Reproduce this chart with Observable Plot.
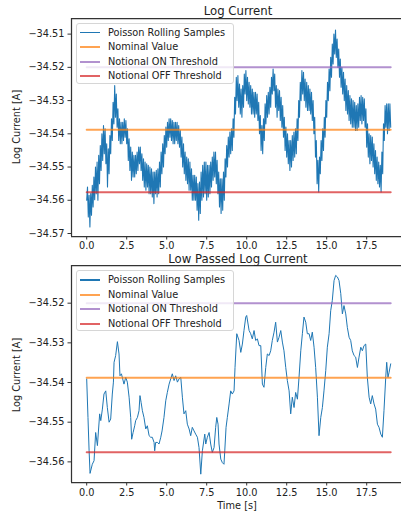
<!DOCTYPE html>
<html>
<head>
<meta charset="utf-8">
<script src="https://cdn.jsdelivr.net/npm/d3@7"></script>
<script src="https://cdn.jsdelivr.net/npm/@observablehq/plot@0.6"></script>
<style>
  html, body { margin: 0; padding: 0; background: #fff; }
  body { font-family: "DejaVu Sans", sans-serif; color: #222; }
  #fig { position: relative; width: 401px; height: 513px; overflow: hidden; background: #fff; }
  #fig svg { position: absolute; left: 0; }
  .title { position: absolute; font-size: 11.7px; line-height: 1; white-space: nowrap; transform: translateX(-50%); }
  .ylab { position: absolute; font-size: 9.75px; line-height: 1; white-space: nowrap; transform: translate(-50%, -50%) rotate(-90deg); }
  .xlab { position: absolute; font-size: 9.75px; line-height: 1; white-space: nowrap; transform: translate(-50%, -50%); }
  .legend { position: absolute; background: rgba(255,255,255,0.8); border: 1px solid #d6d6d6; border-radius: 3px; box-sizing: border-box; }
  .legend .sw { position: absolute; height: 2px; width: 20px; left: 3px; }
  .legend .lt { position: absolute; left: 31px; font-size: 9.75px; line-height: 1; white-space: nowrap; transform: translateY(-50%); }
</style>
</head>
<body>
<div id="fig"></div>
<script>
// ---------- data ----------
const seriesNames = ["Poisson Rolling Samples", "Nominal Value", "Notional ON Threshold", "Notional OFF Threshold"];
const seriesColors = ["#1f77b4", "#ff7f0e", "#9467bd", "#d62728"];
const titles = ["Log Current", "Low Passed Log Current"];
const yLabel = "Log Current [A]";
const xLabel = "Time [s]";
const xTicks = [0, 2.5, 5, 7.5, 10, 12.5, 15, 17.5];
const yTicksTop = [-34.57, -34.56, -34.55, -34.54, -34.53, -34.52, -34.51];
const yTicksBottom = [-34.56, -34.55, -34.54, -34.53, -34.52];

const nominalValue = -34.5388;
const onThreshold = -34.5200;
const offThreshold = -34.5576;
const thresholdSpan = [0, 19];

// raw rolling samples, one every 0.05 s from 0 to 19 s
const rawStep = 0.05;
const rawValues = [
  -34.5600, -34.5560, -34.5650, -34.5585, -34.5680, -34.5580, -34.5645, -34.5555, -34.5620, -34.5530,
  -34.5598, -34.5500, -34.5580, -34.5485, -34.5600, -34.5465, -34.5550, -34.5435, -34.5510, -34.5400,
  -34.5480, -34.5375, -34.5460, -34.5385, -34.5490, -34.5430, -34.5560, -34.5445, -34.5520, -34.5405,
  -34.5460, -34.5355, -34.5420, -34.5305, -34.5370, -34.5255, -34.5350, -34.5280, -34.5380, -34.5325,
  -34.5420, -34.5355, -34.5430, -34.5365, -34.5430, -34.5365, -34.5420, -34.5355, -34.5410, -34.5360,
  -34.5430, -34.5385, -34.5480, -34.5415, -34.5510, -34.5440, -34.5540, -34.5455, -34.5530, -34.5465,
  -34.5530, -34.5465, -34.5520, -34.5455, -34.5510, -34.5440, -34.5490, -34.5440, -34.5510, -34.5460,
  -34.5540, -34.5475, -34.5560, -34.5485, -34.5570, -34.5490, -34.5560, -34.5495, -34.5580, -34.5500,
  -34.5580, -34.5505, -34.5590, -34.5515, -34.5610, -34.5515, -34.5580, -34.5510, -34.5590, -34.5505,
  -34.5580, -34.5485, -34.5560, -34.5455, -34.5520, -34.5430, -34.5500, -34.5405, -34.5460, -34.5380,
  -34.5440, -34.5365, -34.5420, -34.5355, -34.5410, -34.5355, -34.5420, -34.5360, -34.5430, -34.5365,
  -34.5430, -34.5365, -34.5420, -34.5365, -34.5430, -34.5375, -34.5440, -34.5390, -34.5470, -34.5410,
  -34.5500, -34.5430, -34.5520, -34.5455, -34.5540, -34.5470, -34.5550, -34.5475, -34.5570, -34.5485,
  -34.5570, -34.5505, -34.5600, -34.5525, -34.5600, -34.5525, -34.5600, -34.5530, -34.5630, -34.5550,
  -34.5660, -34.5545, -34.5640, -34.5515, -34.5600, -34.5495, -34.5590, -34.5485, -34.5580, -34.5485,
  -34.5600, -34.5495, -34.5590, -34.5495, -34.5580, -34.5485, -34.5560, -34.5470, -34.5540, -34.5455,
  -34.5530, -34.5455, -34.5550, -34.5480, -34.5580, -34.5515, -34.5620, -34.5535, -34.5640, -34.5535,
  -34.5630, -34.5515, -34.5600, -34.5475, -34.5530, -34.5435, -34.5500, -34.5410, -34.5470, -34.5395,
  -34.5460, -34.5385, -34.5450, -34.5355, -34.5410, -34.5290, -34.5340, -34.5230, -34.5300, -34.5225,
  -34.5320, -34.5250, -34.5340, -34.5265, -34.5350, -34.5255, -34.5320, -34.5220, -34.5280, -34.5210,
  -34.5300, -34.5230, -34.5310, -34.5245, -34.5320, -34.5255, -34.5340, -34.5265, -34.5340, -34.5275,
  -34.5350, -34.5275, -34.5340, -34.5280, -34.5360, -34.5305, -34.5400, -34.5345, -34.5450, -34.5375,
  -34.5460, -34.5355, -34.5420, -34.5310, -34.5370, -34.5285, -34.5350, -34.5275, -34.5340, -34.5260,
  -34.5320, -34.5230, -34.5280, -34.5205, -34.5270, -34.5220, -34.5320, -34.5255, -34.5350, -34.5265,
  -34.5330, -34.5270, -34.5360, -34.5290, -34.5380, -34.5315, -34.5410, -34.5350, -34.5450, -34.5380,
  -34.5470, -34.5400, -34.5490, -34.5420, -34.5510, -34.5420, -34.5500, -34.5405, -34.5480, -34.5395,
  -34.5470, -34.5385, -34.5460, -34.5355, -34.5420, -34.5300, -34.5350, -34.5245, -34.5300, -34.5210,
  -34.5280, -34.5215, -34.5300, -34.5235, -34.5320, -34.5245, -34.5330, -34.5255, -34.5330, -34.5265,
  -34.5340, -34.5275, -34.5360, -34.5300, -34.5400, -34.5350, -34.5470, -34.5420, -34.5550, -34.5480,
  -34.5575, -34.5470, -34.5520, -34.5420, -34.5480, -34.5385, -34.5450, -34.5350, -34.5410, -34.5300,
  -34.5350, -34.5245, -34.5300, -34.5205, -34.5270, -34.5170, -34.5230, -34.5130, -34.5190, -34.5100,
  -34.5160, -34.5088, -34.5170, -34.5115, -34.5200, -34.5145, -34.5230, -34.5175, -34.5260, -34.5200,
  -34.5280, -34.5215, -34.5300, -34.5235, -34.5330, -34.5255, -34.5340, -34.5270, -34.5360, -34.5285,
  -34.5370, -34.5295, -34.5380, -34.5300, -34.5380, -34.5305, -34.5390, -34.5315, -34.5390, -34.5310,
  -34.5380, -34.5290, -34.5360, -34.5285, -34.5370, -34.5290, -34.5360, -34.5295, -34.5380, -34.5325,
  -34.5440, -34.5370, -34.5470, -34.5400, -34.5490, -34.5405, -34.5480, -34.5410, -34.5500, -34.5430,
  -34.5520, -34.5450, -34.5540, -34.5470, -34.5550, -34.5485, -34.5560, -34.5495, -34.5575, -34.5455,
  -34.5520, -34.5370, -34.5420, -34.5315, -34.5380, -34.5310, -34.5400, -34.5310, -34.5390, -34.5310,
  -34.5380
];

// low passed series: [time s, value]
const lowPassed = [
  [0, -34.5391], [0.08, -34.5488], [0.15, -34.5572], [0.21, -34.5629], [0.35, -34.5606],
  [0.46, -34.5597], [0.56, -34.5526], [0.67, -34.5559], [0.81, -34.5479], [0.88, -34.5496],
  [0.98, -34.5467], [1.08, -34.5429], [1.19, -34.5421], [1.29, -34.5463], [1.40, -34.5500],
  [1.50, -34.5492], [1.60, -34.5429], [1.67, -34.5399], [1.71, -34.5349], [1.81, -34.5332],
  [1.92, -34.5297], [2.02, -34.5328], [2.08, -34.5383], [2.17, -34.5378], [2.25, -34.5391],
  [2.33, -34.5404], [2.44, -34.5387], [2.54, -34.5399], [2.65, -34.5437], [2.75, -34.5488],
  [2.81, -34.5543], [2.90, -34.5526], [3.00, -34.5509], [3.06, -34.5496], [3.17, -34.5488],
  [3.27, -34.5471], [3.33, -34.5433], [3.40, -34.5450], [3.48, -34.5471], [3.58, -34.5488],
  [3.69, -34.5517], [3.79, -34.5509], [3.90, -34.5534], [4.00, -34.5538], [4.10, -34.5538],
  [4.21, -34.5551], [4.25, -34.5572], [4.31, -34.5551], [4.42, -34.5551], [4.52, -34.5555],
  [4.63, -34.5538], [4.71, -34.5522], [4.83, -34.5488], [4.94, -34.5446], [5.04, -34.5425],
  [5.15, -34.5404], [5.25, -34.5391], [5.35, -34.5378], [5.46, -34.5395], [5.56, -34.5383],
  [5.67, -34.5399], [5.77, -34.5391], [5.88, -34.5387], [5.98, -34.5437], [6.08, -34.5479],
  [6.19, -34.5471], [6.29, -34.5505], [6.40, -34.5517], [6.50, -34.5534], [6.60, -34.5513],
  [6.71, -34.5522], [6.81, -34.5530], [6.92, -34.5538], [7.02, -34.5564], [7.13, -34.5631],
  [7.23, -34.5572], [7.38, -34.5530], [7.44, -34.5555], [7.54, -34.5538], [7.65, -34.5526],
  [7.75, -34.5555], [7.85, -34.5576], [7.96, -34.5564], [8.06, -34.5513], [8.13, -34.5488],
  [8.21, -34.5505], [8.27, -34.5555], [8.38, -34.5593], [8.48, -34.5602], [8.58, -34.5606],
  [8.63, -34.5572], [8.71, -34.5513], [8.79, -34.5488], [8.90, -34.5454], [9.00, -34.5421],
  [9.10, -34.5429], [9.21, -34.5421], [9.27, -34.5362], [9.38, -34.5277], [9.52, -34.5294],
  [9.63, -34.5324], [9.73, -34.5303], [9.83, -34.5269], [9.94, -34.5235], [10.00, -34.5231],
  [10.15, -34.5269], [10.25, -34.5277], [10.35, -34.5290], [10.46, -34.5269], [10.56, -34.5294],
  [10.67, -34.5290], [10.77, -34.5307], [10.88, -34.5307], [10.98, -34.5404], [11.08, -34.5412],
  [11.19, -34.5362], [11.29, -34.5328], [11.40, -34.5332], [11.50, -34.5320], [11.60, -34.5294],
  [11.71, -34.5273], [11.81, -34.5248], [11.92, -34.5298], [12.02, -34.5286], [12.13, -34.5269],
  [12.23, -34.5298], [12.33, -34.5320], [12.44, -34.5362], [12.54, -34.5395], [12.65, -34.5421],
  [12.75, -34.5479], [12.85, -34.5437], [12.96, -34.5463], [13.06, -34.5425], [13.17, -34.5442],
  [13.27, -34.5387], [13.38, -34.5320], [13.48, -34.5277], [13.58, -34.5235], [13.69, -34.5248],
  [13.79, -34.5277], [13.90, -34.5277], [14.00, -34.5294], [14.10, -34.5273], [14.21, -34.5311],
  [14.31, -34.5362], [14.42, -34.5437], [14.52, -34.5534], [14.63, -34.5488], [14.73, -34.5463],
  [14.83, -34.5421], [14.94, -34.5370], [15.04, -34.5311], [15.15, -34.5277], [15.25, -34.5219],
  [15.35, -34.5193], [15.46, -34.5143], [15.56, -34.5130], [15.67, -34.5134], [15.77, -34.5143],
  [15.88, -34.5176], [15.98, -34.5227], [16.08, -34.5206], [16.19, -34.5227], [16.29, -34.5261],
  [16.40, -34.5286], [16.50, -34.5294], [16.60, -34.5320], [16.71, -34.5332], [16.81, -34.5336],
  [16.92, -34.5362], [17.02, -34.5336], [17.13, -34.5311], [17.23, -34.5320], [17.33, -34.5307],
  [17.44, -34.5303], [17.54, -34.5387], [17.65, -34.5437], [17.75, -34.5454], [17.85, -34.5433],
  [17.96, -34.5454], [18.06, -34.5467], [18.17, -34.5505], [18.27, -34.5513], [18.38, -34.5530],
  [18.48, -34.5538], [18.58, -34.5471], [18.69, -34.5387], [18.75, -34.5349], [18.83, -34.5387],
  [18.90, -34.5374], [19.00, -34.5353]
];

// ---------- drawing ----------
const rawData = rawValues.map((v, i) => ({t: +(i * rawStep).toFixed(3), v}));
const lpData = lowPassed.map(([t, v]) => ({t, v}));
const thresholds = [
  {name: seriesNames[1], value: nominalValue, color: seriesColors[1]},
  {name: seriesNames[2], value: onThreshold, color: seriesColors[2]},
  {name: seriesNames[3], value: offThreshold, color: seriesColors[3]}
];
const thrLines = thresholds.flatMap(d => thresholdSpan.map(t => ({t, v: d.value, name: d.name, color: d.color})));

const xDomain = [-0.95, 19.675];
const spine = "#333";

function panel({data, lineWidth, yDomain, yTicks, height, marginTop, marginBottom, xPad}) {
  return Plot.plot({
    width: 401, height, marginLeft: 71, marginRight: 0, marginTop, marginBottom,
    style: {fontFamily: "DejaVu Sans", fontSize: "9.75px", color: "#222", background: "transparent", overflow: "visible"},
    x: {domain: xDomain},
    y: {domain: yDomain},
    marks: [
      Plot.line(data, {x: "t", y: "v", stroke: seriesColors[0], strokeWidth: lineWidth, strokeLinejoin: "round"}),
      Plot.line(thrLines, {x: "t", y: "v", z: "name", stroke: "color", strokeWidth: 2, strokeOpacity: 0.72}),
      Plot.ruleX([xDomain[0]], {stroke: spine, strokeWidth: 1.25}),
      Plot.ruleY([yDomain[0]], {stroke: spine, strokeWidth: 1.25}),
      Plot.ruleY([yDomain[1]], {stroke: spine, strokeWidth: 1.25}),
      Plot.axisX({ticks: xTicks, tickFormat: d3.format(".1f"), tickSize: 3.5, tickPadding: xPad, label: null, stroke: spine}),
      Plot.axisY({ticks: yTicks, tickFormat: d3.format(".2f"), tickSize: 3.5, tickPadding: 3.5, label: null, stroke: spine})
    ]
  });
}

const fig = document.getElementById("fig");

const p1 = panel({data: rawData, lineWidth: 1.1, yDomain: [-34.5709, -34.5053], yTicks: yTicksTop, height: 250, marginTop: 18, marginBottom: 14, xPad: 2.5});
p1.style.top = "0px";
fig.appendChild(p1);

const p2 = panel({data: lpData, lineWidth: 1.0, yDomain: [-34.5652, -34.5105], yTicks: yTicksBottom, height: 263, marginTop: 15, marginBottom: 31, xPad: 3.5});
p2.style.top = "250px";
fig.appendChild(p2);

function addDiv(cls, text, left, top) {
  const d = document.createElement("div");
  d.className = cls;
  d.textContent = text;
  d.style.left = left + "px";
  d.style.top = top + "px";
  fig.appendChild(d);
  return d;
}

addDiv("title", titles[0], 238, 5.5);
addDiv("title", titles[1], 238, 253.5);
addDiv("ylab", yLabel, 17, 127);
addDiv("ylab", yLabel, 17, 375);
addDiv("xlab", xLabel, 237, 506);

function legend(left, top) {
  const box = document.createElement("div");
  box.className = "legend";
  box.style.left = left + "px";
  box.style.top = top + "px";
  box.style.width = "158px";
  box.style.height = "61px";
  const rowY = [9.2, 23.7, 38.2, 52.7];
  seriesNames.forEach((name, i) => {
    const sw = document.createElement("div");
    sw.className = "sw";
    sw.style.top = (rowY[i] - 1) + "px";
    sw.style.background = seriesColors[i];
    sw.style.opacity = i === 0 ? 1 : 0.72;
    if (i === 0) { sw.style.height = "1.5px"; }
    box.appendChild(sw);
    const lt = document.createElement("div");
    lt.className = "lt";
    lt.style.top = rowY[i] + "px";
    lt.textContent = name;
    box.appendChild(lt);
  });
  fig.appendChild(box);
}
legend(76, 22.5);
legend(76, 270);
</script>
</body>
</html>
